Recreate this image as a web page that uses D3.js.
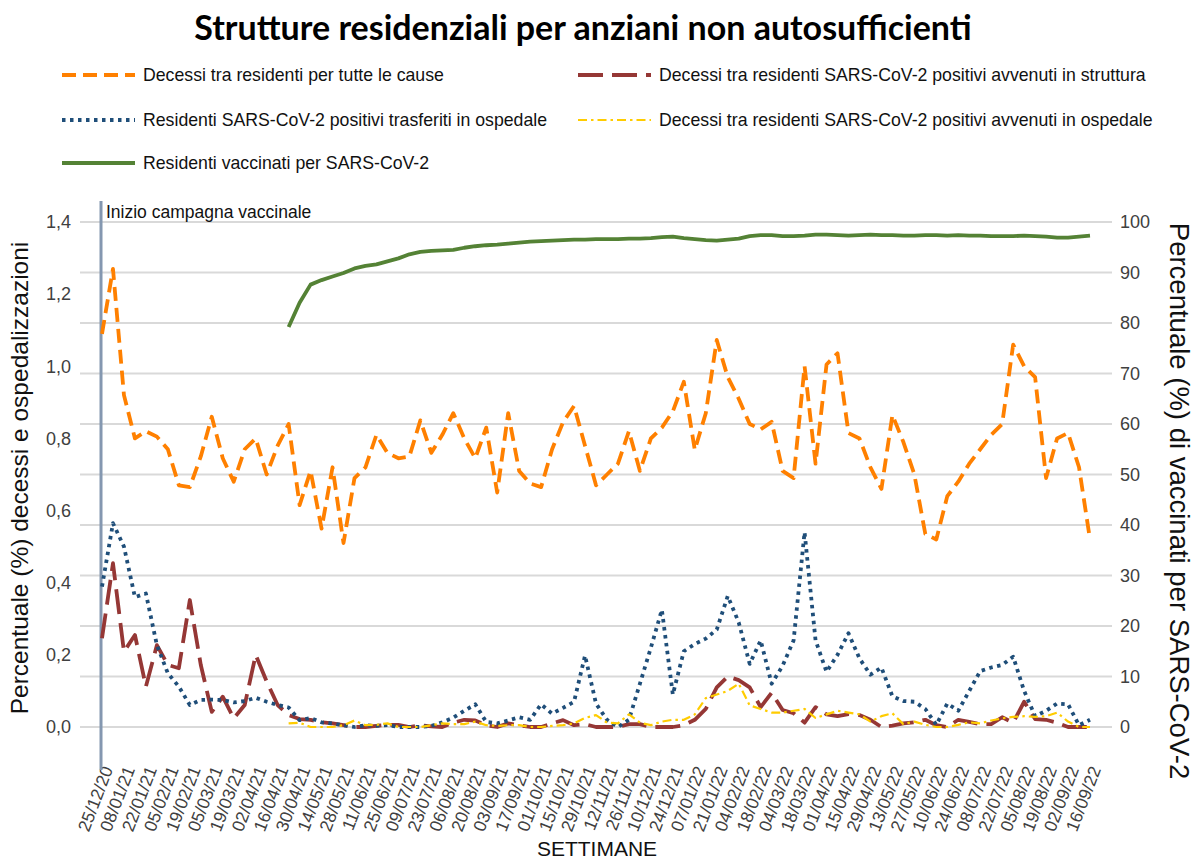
<!DOCTYPE html>
<html>
<head>
<meta charset="utf-8">
<script src="https://cdn.jsdelivr.net/npm/d3@7"></script>
<style>
  body { margin: 0; background: #fff; }
  text { font-family: "Liberation Sans", Arial, sans-serif; }
</style>
</head>
<body>
<script>
// Tick labels (every second week)
var xLabels = ["25/12/20","08/01/21","22/01/21","05/02/21","19/02/21","05/03/21","19/03/21","02/04/21",
  "16/04/21","30/04/21","14/05/21","28/05/21","11/06/21","25/06/21","09/07/21","23/07/21","06/08/21",
  "20/08/21","03/09/21","17/09/21","01/10/21","15/10/21","29/10/21","12/11/21","26/11/21","10/12/21",
  "24/12/21","07/01/22","21/01/22","04/02/22","18/02/22","04/03/22","18/03/22","01/04/22","15/04/22",
  "29/04/22","13/05/22","27/05/22","10/06/22","24/06/22","08/07/22","22/07/22","05/08/22","19/08/22",
  "02/09/22","16/09/22"];

// Decessi tra residenti per tutte le cause (%)
var deathsAll = [1.09,1.27,0.92,0.80,0.82,0.805,0.77,0.67,0.665,0.75,0.86,0.745,0.68,0.77,0.80,0.70,
  0.78,0.84,0.615,0.71,0.55,0.72,0.51,0.69,0.72,0.81,0.76,0.745,0.75,0.85,0.76,0.81,0.87,0.80,0.745,
  0.83,0.65,0.87,0.71,0.675,0.665,0.77,0.845,0.89,0.78,0.67,0.70,0.73,0.82,0.71,0.80,0.83,0.875,0.957,
  0.768,0.87,1.073,0.97,0.91,0.84,0.825,0.846,0.71,0.69,1.0,0.73,1.005,1.036,0.815,0.80,0.72,0.66,
  0.865,0.79,0.70,0.535,0.52,0.64,0.68,0.73,0.77,0.81,0.84,1.06,1.0,0.97,0.69,0.80,0.815,0.72,0.52];

// Decessi SARS-CoV-2 positivi avvenuti in struttura (%)
var deathsFacility = [0.246,0.454,0.209,0.255,0.112,0.227,0.172,0.163,0.352,0.172,0.042,0.084,0.024,
  0.061,0.20,0.126,0.061,0.033,0.022,0.02,0.013,0.01,0.005,0,0,0.003,0.006,0.006,0,0.005,0.002,0,0.012,
  0.02,0.018,0.005,0,0.01,0.005,0,0,0.01,0.019,0.005,0.008,0,0,0,0.008,0.008,0,0,0,0.005,0.02,0.05,0.11,
  0.14,0.13,0.11,0.055,0.095,0.047,0.038,0.012,0.055,0.035,0.03,0.036,0.033,0.02,0,0.004,0.01,0.013,
  0.02,0.005,0,0.02,0.014,0.008,0.008,0.027,0.012,0.07,0.022,0.02,0.012,0,0,0];

// Residenti SARS-CoV-2 positivi trasferiti in ospedale (%)
var transfers = [0.389,0.565,0.50,0.36,0.37,0.227,0.149,0.112,0.061,0.075,0.076,0.075,0.068,0.072,
  0.081,0.07,0.061,0.054,0.019,0.025,0.013,0.01,0.005,0,0.005,0.003,0.005,0,0,0,0.003,0.013,0.026,
  0.045,0.063,0.014,0.01,0.018,0.027,0.02,0.063,0.037,0.053,0.07,0.198,0.065,0.02,0,0.02,0.12,0.22,
  0.325,0.09,0.21,0.23,0.245,0.27,0.363,0.29,0.175,0.24,0.12,0.17,0.24,0.54,0.24,0.153,0.20,0.26,0.19,
  0.145,0.165,0.085,0.072,0.07,0.05,0.006,0.065,0.045,0.10,0.155,0.165,0.172,0.195,0.10,0.03,0.045,
  0.065,0.063,0.005,0.02];

// Decessi SARS-CoV-2 positivi avvenuti in ospedale (%)
var deathsHospital = [null,null,null,null,null,null,null,null,null,null,null,null,null,null,null,null,
  null,0.01,0.012,0,0,0,0.005,0.018,0.005,0.006,0.01,0,0,0,0.005,0.01,0.008,0.008,0.015,0.005,0.003,
  0.005,0.005,0,0,0.003,0.005,0.01,0.025,0.033,0.012,0.01,0.035,0.012,0.005,0.015,0.02,0.02,0.035,0.08,
  0.09,0.10,0.12,0.06,0.05,0.04,0.04,0.045,0.05,0.025,0.035,0.045,0.04,0.035,0.015,0.03,0.038,0.008,
  0.015,0.006,0,0,0.006,0.013,0.01,0.018,0.024,0.028,0.03,0.028,0.03,0.04,0.015,0,0];

// Residenti vaccinati per SARS-CoV-2 (%) - asse destro
var vaccinated = [null,null,null,null,null,null,null,null,null,null,null,null,null,null,null,null,null,
  79.2,84.0,87.6,88.5,89.2,89.9,90.8,91.3,91.6,92.2,92.8,93.6,94.1,94.3,94.4,94.5,94.9,95.2,95.4,95.5,
  95.7,95.9,96.1,96.2,96.3,96.4,96.5,96.5,96.6,96.6,96.6,96.7,96.7,96.8,97.0,97.1,96.8,96.6,96.4,96.3,
  96.5,96.7,97.2,97.4,97.4,97.2,97.2,97.3,97.5,97.5,97.4,97.3,97.4,97.5,97.4,97.4,97.3,97.3,97.4,97.4,
  97.3,97.4,97.3,97.3,97.2,97.2,97.2,97.3,97.2,97.1,96.9,96.9,97.1,97.3];

var width = 1194, height = 861;

var svg = d3.select("body").append("svg")
  .attr("width", width)
  .attr("height", height);

var x = d3.scaleLinear().domain([0, deathsAll.length - 1]).range([102, 1090]);
var yLeft = d3.scaleLinear().domain([0, 1.4]).range([727, 222]);
var yRight = d3.scaleLinear().domain([0, 100]).range([727, 222]);

// Title
svg.append("text")
  .attr("x", 583).attr("y", 40)
  .attr("text-anchor", "middle")
  .style("font-family", "Lato, 'Open Sans', sans-serif")
  .style("font-weight", "bold")
  .style("font-size", "34px")
  .text("Strutture residenziali per anziani non autosufficienti");

// Series styles
var series = [
  { name: "Decessi tra residenti per tutte le cause", data: deathsAll, axis: yLeft,
    color: "#ff8000", width: 3.8, dash: "14,7", lx: 62, ly: 75 },
  { name: "Decessi tra residenti SARS-CoV-2 positivi avvenuti in struttura", data: deathsFacility, axis: yLeft,
    color: "#953735", width: 3.8, dash: "25,9", lx: 578, ly: 75 },
  { name: "Residenti SARS-CoV-2 positivi trasferiti in ospedale", data: transfers, axis: yLeft,
    color: "#1f4e79", width: 3.8, dash: "3.5,4.5", lx: 62, ly: 120 },
  { name: "Decessi tra residenti SARS-CoV-2 positivi avvenuti in ospedale", data: deathsHospital, axis: yLeft,
    color: "#ffcc00", width: 2.2, dash: "9,4,2.5,4", lx: 578, ly: 120 },
  { name: "Residenti vaccinati per SARS-CoV-2", data: vaccinated, axis: yRight,
    color: "#548235", width: 3.8, dash: null, lx: 62, ly: 163 }
];

// Legend
var legend = svg.append("g").attr("class", "legend");
series.forEach(function(s) {
  legend.append("line")
    .attr("x1", s.lx).attr("x2", s.lx + 73)
    .attr("y1", s.ly).attr("y2", s.ly)
    .attr("stroke", s.color)
    .attr("stroke-width", s.width)
    .attr("stroke-dasharray", s.dash);
  legend.append("text")
    .attr("x", s.lx + 81).attr("y", s.ly + 6)
    .style("font-size", "17.7px")
    .style("fill", "#111")
    .text(s.name);
});

// Gridlines (right axis steps)
svg.append("g").selectAll("line")
  .data(yRight.ticks(10))
  .enter().append("line")
  .attr("x1", 80).attr("x2", 1112)
  .attr("y1", function(d) { return yRight(d); })
  .attr("y2", function(d) { return yRight(d); })
  .attr("stroke", "#d9d9d9")
  .attr("stroke-width", 2);

// Left axis
var fmt = function(d) { return d3.format(".1f")(d).replace(".", ","); };
var gL = svg.append("g")
  .attr("transform", "translate(71,0)")
  .call(d3.axisLeft(yLeft).tickValues(d3.range(0, 1.41, 0.2)).tickFormat(fmt).tickSize(0).tickPadding(0));
gL.select(".domain").remove();
gL.selectAll("text").style("font-size", "18px").style("fill", "#404040").style("font-family", "'Liberation Sans', Arial, sans-serif");

// Right axis
var gR = svg.append("g")
  .attr("transform", "translate(1120,0)")
  .call(d3.axisRight(yRight).tickValues(d3.range(0, 101, 10)).tickSize(0).tickPadding(0));
gR.select(".domain").remove();
gR.selectAll("text").style("font-size", "18px").style("fill", "#404040").style("font-family", "'Liberation Sans', Arial, sans-serif");

// X axis with rotated week labels
var gX = svg.append("g")
  .attr("transform", "translate(0,767)")
  .call(d3.axisBottom(x).tickValues(d3.range(0, deathsAll.length, 2))
    .tickFormat(function(i) { return xLabels[i / 2]; }).tickSize(0).tickPadding(0));
gX.select(".domain").remove();
gX.selectAll("text")
  .style("font-size", "17.5px")
  .style("fill", "#404040")
  .style("font-family", "'Liberation Sans', Arial, sans-serif")
  .attr("text-anchor", "end")
  .attr("dy", "0.35em")
  .attr("transform", "translate(5,0) rotate(-69)");

// Vaccination campaign start marker
svg.append("line")
  .attr("x1", x(0) - 1).attr("x2", x(0) - 1)
  .attr("y1", 201).attr("y2", 770)
  .attr("stroke", "#8497b0")
  .attr("stroke-width", 3);
svg.append("text")
  .attr("x", 106).attr("y", 218)
  .style("font-size", "17.5px")
  .style("fill", "#111")
  .text("Inizio campagna vaccinale");

// Lines
series.forEach(function(s) {
  var line = d3.line()
    .defined(function(d) { return d != null; })
    .x(function(d, i) { return x(i); })
    .y(function(d) { return s.axis(d); });
  svg.append("path")
    .datum(s.data)
    .attr("d", line)
    .attr("fill", "none")
    .attr("stroke", s.color)
    .attr("stroke-width", s.width)
    .attr("stroke-dasharray", s.dash)
    .attr("stroke-linejoin", "round");
});

// Axis titles
svg.append("text")
  .attr("transform", "translate(28,478) rotate(-90)")
  .attr("text-anchor", "middle")
  .style("font-size", "24.5px")
  .style("fill", "#111")
  .text("Percentuale (%) decessi e ospedalizzazioni");

svg.append("text")
  .attr("transform", "translate(1170,501) rotate(90)")
  .attr("text-anchor", "middle")
  .style("font-size", "27.5px")
  .style("fill", "#111")
  .text("Percentuale (%) di vaccinati per SARS-CoV-2");

svg.append("text")
  .attr("x", 597).attr("y", 856)
  .attr("text-anchor", "middle")
  .style("font-size", "21px")
  .style("fill", "#111")
  .text("SETTIMANE");
</script>
</body>
</html>
